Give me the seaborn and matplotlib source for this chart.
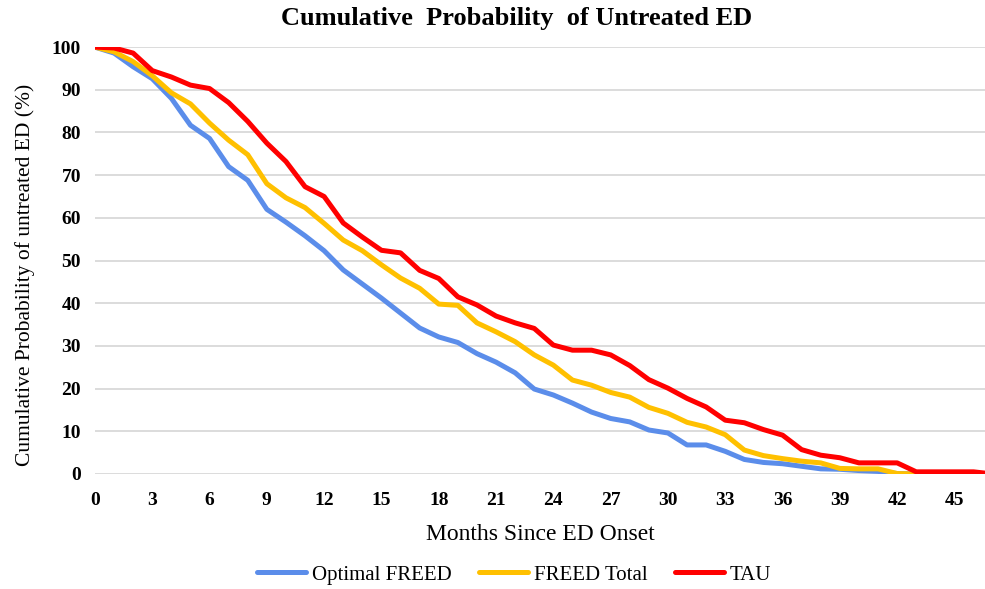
import matplotlib
matplotlib.use("Agg")
import matplotlib.pyplot as plt
import numpy as np
import pandas as pd
import seaborn as sns

months = list(range(0, 48))

optimal_freed = [100, 98.6, 95.4, 92.6, 88.0, 81.7, 78.6, 72.0, 68.8, 62.0,
                 59.0, 55.8, 52.3, 47.8, 44.5, 41.2, 37.7, 34.2, 32.1, 30.8,
                 28.2, 26.2, 23.7, 19.9, 18.5, 16.6, 14.5, 13.0, 12.2, 10.3,
                 9.6, 6.8, 6.8, 5.3, 3.4, 2.7, 2.4, 1.8, 1.2, 1.1,
                 0.8, 0.6, 0.1, 0, 0, 0, 0, 0]

freed_total = [100, 98.9, 96.6, 93.3, 89.3, 86.7, 82.2, 78.2, 74.8, 68.0,
               64.7, 62.4, 58.7, 54.8, 52.3, 49.0, 45.9, 43.5, 39.8, 39.5,
               35.4, 33.3, 31.0, 27.9, 25.5, 22.0, 20.8, 19.1, 18.0, 15.6,
               14.2, 12.1, 11.0, 9.2, 5.6, 4.3, 3.6, 3.0, 2.6, 1.3,
               1.2, 1.2, 0.1, 0, 0, 0, 0, 0]

tau = [100, 99.8, 98.6, 94.5, 93.0, 91.1, 90.3, 87.0, 82.6, 77.5,
       73.2, 67.3, 65.0, 58.8, 55.5, 52.4, 51.8, 47.7, 45.8, 41.5,
       39.6, 37.0, 35.4, 34.1, 30.2, 29.0, 29.0, 27.9, 25.4, 22.1,
       20.1, 17.7, 15.7, 12.6, 12.0, 10.4, 9.1, 5.7, 4.4, 3.8,
       2.6, 2.6, 2.6, 0.5, 0.5, 0.5, 0.5, 0]

series_names = ["Optimal FREED", "FREED Total", "TAU"]
colors = ["#5B8DEA", "#FFC000", "#FF0000"]
x_ticks = list(range(0, 46, 3))
y_ticks = list(range(0, 101, 10))

df = pd.DataFrame({
    "month": months * 3,
    "prob": optimal_freed + freed_total + tau,
    "group": np.repeat(series_names, len(months)),
})

sns.set_theme(style="white")
plt.rcParams["font.family"] = ["Liberation Serif", "DejaVu Serif"]
plt.rcParams["text.color"] = "black"
plt.rcParams["axes.labelcolor"] = "black"

fig = plt.figure(figsize=(9.85, 5.89), dpi=100)
ax = fig.add_axes([0.0964, 0.1953, 0.9036, 0.7247])

sns.lineplot(data=df, x="month", y="prob", hue="group", hue_order=series_names,
             palette=colors, linewidth=3.6, ax=ax, legend=True)

ax.set_xlim(0, 46.6)
ax.set_ylim(0, 100)
ax.set_xticks(x_ticks)
ax.set_yticks(y_ticks)
ax.tick_params(axis="both", length=0, labelsize=14, colors="black")
ax.tick_params(axis="x", pad=13)
ax.tick_params(axis="y", pad=10)
for lbl in ax.get_xticklabels() + ax.get_yticklabels():
    lbl.set_fontweight("bold")
ax.yaxis.grid(True, color="#D9D9D9", linewidth=1.3)
ax.set_axisbelow(True)
for s in ax.spines.values():
    s.set_visible(False)

ax.set_xlabel("Months Since ED Onset", fontsize=17, labelpad=11)
ax.set_ylabel("Cumulative Probability of untreated ED (%)", fontsize=15.5)
ax.yaxis.set_label_coords(-0.067, 0.466)
fig.text(0.524, 0.968, "Cumulative  Probability  of Untreated ED", ha="center",
         va="center", fontsize=19, fontweight="bold")

handles, labels = ax.get_legend_handles_labels()
ax.legend_.remove()
fig.legend(handles, labels, loc="center", bbox_to_anchor=(0.522, 0.024),
           ncol=3, frameon=False, fontsize=15, handlelength=2.35,
           columnspacing=1.35, handletextpad=0.25)

fig.savefig("out.png", dpi=100)
